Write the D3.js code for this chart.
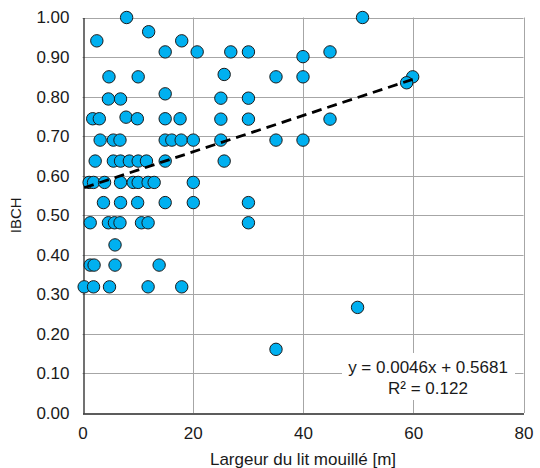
<!DOCTYPE html>
<html>
<head>
<meta charset="utf-8">
<script src="https://cdnjs.cloudflare.com/ajax/libs/d3/7.8.5/d3.min.js"></script>
<style>
	html, body { margin: 0; padding: 0; background: #fff; }
	svg text { font-family: "Liberation Sans", Arial, sans-serif; fill: #1a1a1a; }
</style>
</head>
<body>
<svg class="chart" width="540" height="468"></svg>
<script>
(function(d3) {
	'use strict';

	/** data: largeur du lit mouillé [m] vs IBCH */
	var largeur = [
		8, 50.8, 12, 2.6, 18,
		15, 20.8, 26.9, 30.1, 44.9, 40, 25.7,
		4.8, 10.1, 35.1, 40, 59.9, 58.8, 15,
		4.7, 6.9, 25.1, 30.1, 7.9,
		1.85, 3.05, 9.95, 15, 17.7, 25.1, 30.1, 44.9,
		3.2, 5.6, 6.8, 15, 16.2, 17.9, 20.1, 25.1, 35.1, 40,
		2.3, 5.6, 6.9, 8.5, 10.1, 11.6, 15, 25.7,
		1.2, 2, 4, 6.9, 9.2, 10.1, 11.9, 13, 20.1,
		3.8, 6.9, 10, 15, 20.1, 30.1,
		1.4, 4.7, 5.8, 6.8, 10.7, 11.9, 30.1,
		5.9,
		1.4, 2.1, 5.9, 13.9,
		0.3, 2, 4.9, 11.9, 18,
		49.9, 35.1
	];
	var ibch = [
		1.00, 1.00, 0.964, 0.941, 0.941,
		0.913, 0.913, 0.913, 0.913, 0.913, 0.901, 0.856,
		0.850, 0.850, 0.850, 0.850, 0.850, 0.835, 0.807,
		0.794, 0.794, 0.796, 0.796, 0.748,
		0.744, 0.744, 0.744, 0.744, 0.744, 0.743, 0.743, 0.743,
		0.690, 0.690, 0.690, 0.690, 0.690, 0.690, 0.690, 0.690, 0.690, 0.690,
		0.637, 0.637, 0.637, 0.637, 0.637, 0.637, 0.637, 0.637,
		0.583, 0.583, 0.583, 0.583, 0.583, 0.583, 0.583, 0.583, 0.583,
		0.532, 0.532, 0.532, 0.532, 0.532, 0.532,
		0.481, 0.481, 0.481, 0.481, 0.481, 0.481, 0.481,
		0.425,
		0.374, 0.374, 0.374, 0.374,
		0.319, 0.319, 0.319, 0.319, 0.319,
		0.267, 0.161
	];
	var xTicks = [0, 20, 40, 60, 80];
	var yTicks = [0, 0.1, 0.2, 0.3, 0.4, 0.5, 0.6, 0.7, 0.8, 0.9, 1.0];
	var trend = { slope: 0.0046, intercept: 0.5681, r2: '0.122' };

	var svg = d3.select('.chart');
	var left = 82.5, right = 523.5, top = 17.5, bottom = 413;

	var x = d3.scaleLinear().domain([0, 80]).range([left, right]);
	var y = d3.scaleLinear().domain([0, 1]).range([bottom, top]);

	/** grid */
	var grid = svg.append('g').attr('class', 'grid')
		.attr('stroke', '#a6a6a6').attr('stroke-width', 1);
	grid.selectAll('.gy').data(yTicks.slice(1)).enter().append('line')
		.attr('x1', left).attr('x2', right)
		.attr('y1', function(d) { return Math.round(y(d)) + 0.5; })
		.attr('y2', function(d) { return Math.round(y(d)) + 0.5; });
	grid.selectAll('.gx').data(xTicks.slice(1)).enter().append('line')
		.attr('y1', top).attr('y2', bottom)
		.attr('x1', function(d) { return Math.round(x(d)) + 0.5; })
		.attr('x2', function(d) { return Math.round(x(d)) + 0.5; });

	/** axes */
	var xAxis = d3.axisBottom(x).tickValues(xTicks).tickSize(0).tickPadding(13)
		.tickFormat(d3.format('d'));
	var yAxis = d3.axisLeft(y).tickValues(yTicks).tickSize(0).tickPadding(14)
		.tickFormat(d3.format('.2f'));

	var gx = svg.append('g').attr('transform', 'translate(0,' + (Math.round(bottom) + 0.5) + ')').call(xAxis);
	var gy = svg.append('g').attr('transform', 'translate(' + (Math.round(left) + 0.5) + ',0)').call(yAxis);
	[gx, gy].forEach(function(g) {
		g.select('.domain').attr('stroke', '#262626').attr('stroke-width', 1.3);
		g.selectAll('text').attr('font-size', 17).attr('fill', '#1a1a1a')
			.attr('font-family', '"Liberation Sans", Arial, sans-serif');
	});

	/** equation label, drawn under the points */
	var eq = svg.append('g').attr('class', 'equation');
	eq.append('rect').attr('x', 342).attr('y', 353).attr('width', 173).attr('height', 47).attr('fill', '#fff');
	eq.append('text').attr('x', 428).attr('y', 373).attr('text-anchor', 'middle').attr('font-size', 17)
		.text('y = ' + trend.slope + 'x + ' + trend.intercept);
	eq.append('text').attr('x', 428).attr('y', 394).attr('text-anchor', 'middle').attr('font-size', 17)
		.text('R\u00b2 = ' + trend.r2);

	/** points */
	var points = largeur.map(function(v, i) { return [v, ibch[i]]; });
	svg.append('g').selectAll('circle').data(points).enter().append('circle')
		.attr('cx', function(d) { return x(d[0]); })
		.attr('cy', function(d) { return y(d[1]); })
		.attr('r', 6.2)
		.attr('fill', '#00b0f0')
		.attr('stroke', '#1a1a1a')
		.attr('stroke-width', 1);

	/** linear trend line over the data range */
	var xExtent = d3.extent(largeur);
	var line = d3.line()
		.x(function(d) { return x(d); })
		.y(function(d) { return y(trend.slope * d + trend.intercept); });
	svg.append('path').datum(xExtent)
		.attr('d', line)
		.attr('fill', 'none')
		.attr('stroke', '#000')
		.attr('stroke-width', 2.8)
		.attr('stroke-dasharray', '10,6');

	/** titles */
	svg.append('text').attr('x', (left + right) / 2).attr('y', 465).attr('text-anchor', 'middle')
		.attr('font-size', 17).text('Largeur du lit mouillé [m]');
	svg.append('text').attr('transform', 'translate(21,' + ((top + bottom) / 2) + ') rotate(-90)')
		.attr('text-anchor', 'middle').attr('font-size', 15).text('IBCH');
})(d3);
</script>
</body>
</html>
